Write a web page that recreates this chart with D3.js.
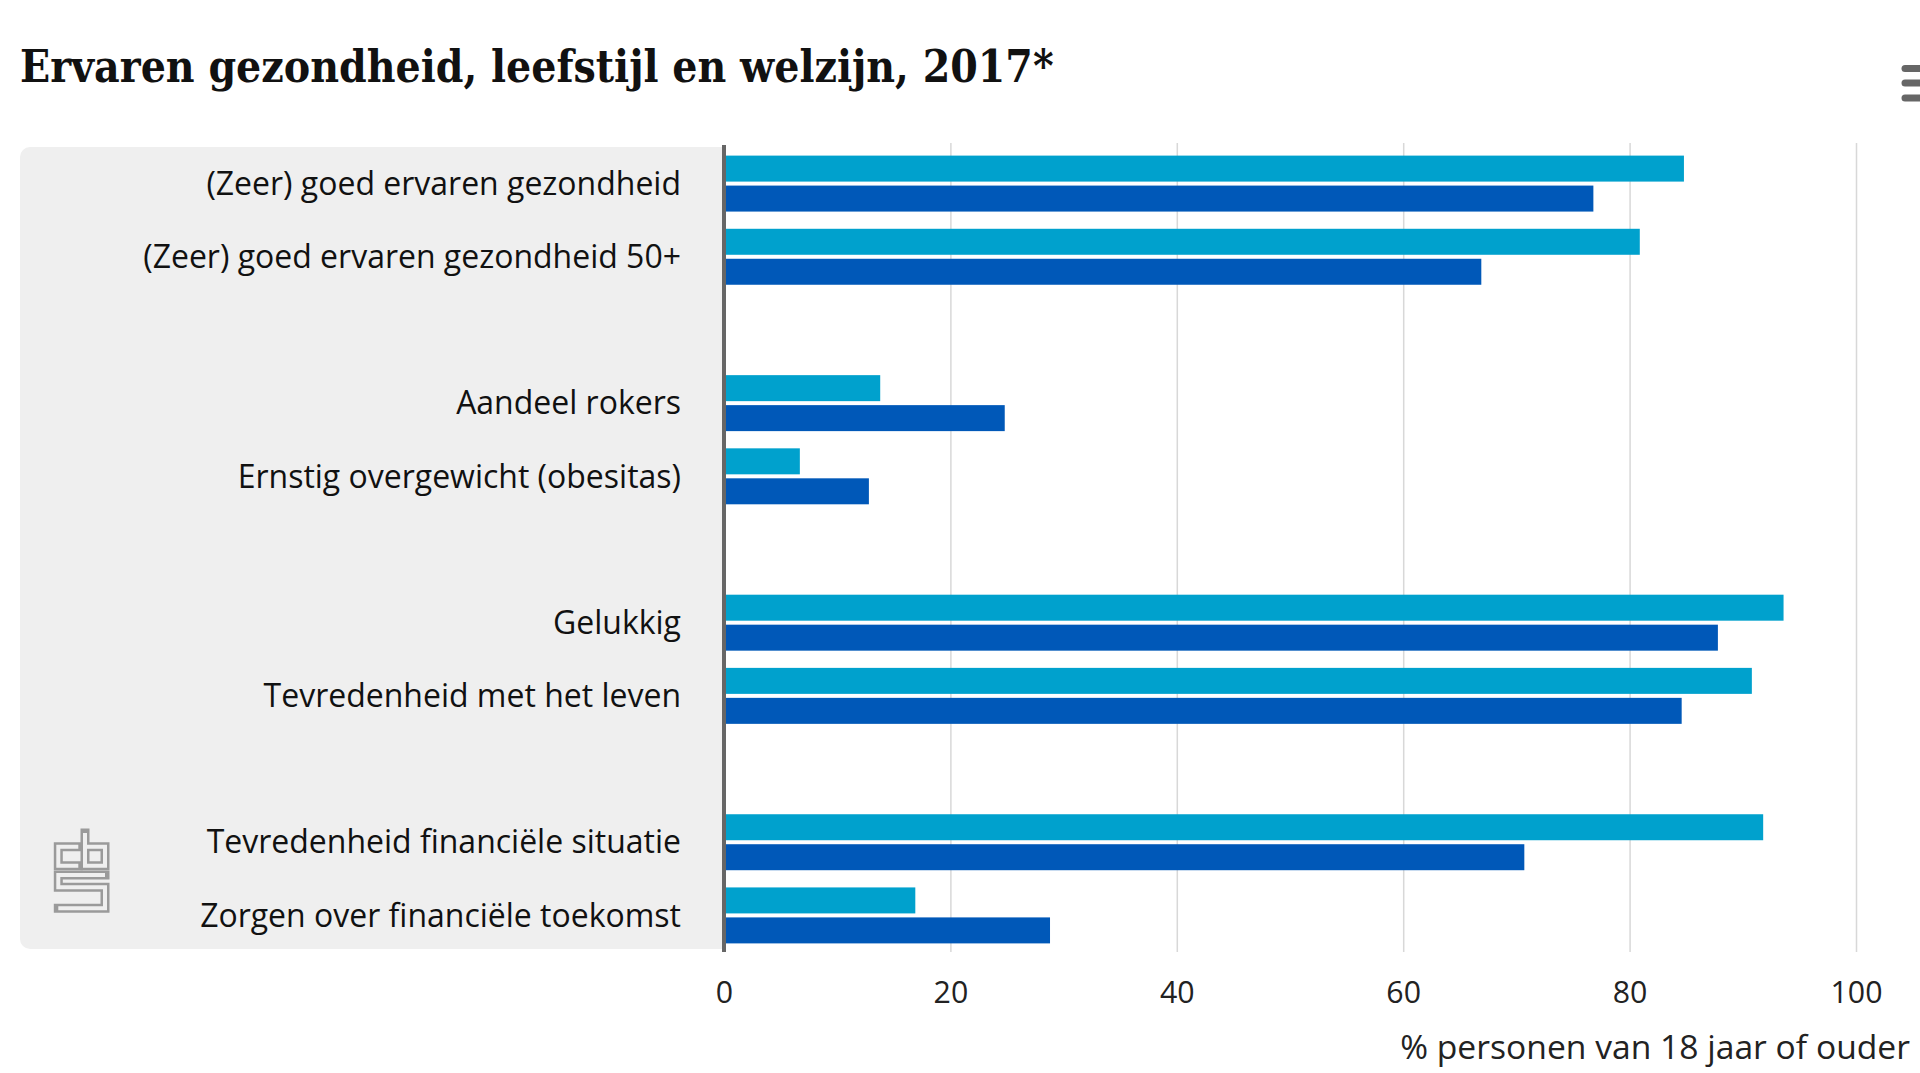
<!DOCTYPE html>
<html><head><meta charset="utf-8">
<script src="https://cdn.jsdelivr.net/npm/d3@7"></script>
<style>html,body{margin:0;padding:0;background:#fff;overflow:hidden}</style>
</head><body><svg id="c" width="1920" height="1073"></svg>
<script>
// ---- data ----
const title = "Ervaren gezondheid, leefstijl en welzijn, 2017*";
const categories = ["(Zeer) goed ervaren gezondheid", "(Zeer) goed ervaren gezondheid 50+", "",
  "Aandeel rokers", "Ernstig overgewicht (obesitas)", "",
  "Gelukkig", "Tevredenheid met het leven", "",
  "Tevredenheid financiële situatie", "Zorgen over financiële toekomst"];
const seriesLight = [84.8, 80.9, null, 13.8, 6.7, null, 93.6, 90.8, null, 91.8, 16.9];
const seriesDark  = [76.8, 66.9, null, 24.8, 12.8, null, 87.8, 84.6, null, 70.7, 28.8];
const xTicks = [0, 20, 40, 60, 80, 100];
const axisTitle = "% personen van 18 jaar of ouder";

// ---- layout ----
const svg = d3.select("#c");
const x = d3.scaleLinear([0, 100], [724, 1856]);
const y = d3.scaleBand(d3.range(categories.length), [147, 952]).padding(0);
const inner = d3.scaleBand(["light", "dark"], [0, y.bandwidth()]).paddingInner(0.133).paddingOuter(0.287);
const colors = {light: "#00a1cd", dark: "#0058b8"};

function fitWidth(sel, target) {
  const w = sel.node().getComputedTextLength();
  const fs = parseFloat(sel.attr("font-size"));
  const nfs = fs * target / w;
  sel.attr("font-size", nfs);
  return nfs;
}

// panel
svg.append("rect").attr("x", 20).attr("y", 147).attr("width", 724 - 20 + 8).attr("height", 952 - 147 - 3)
  .attr("rx", 10).attr("fill", "#efefef");
svg.append("rect").attr("x", 724).attr("y", 140).attr("width", 20).attr("height", 820).attr("fill", "#fff");

// gridlines
svg.append("g").attr("transform", `translate(0,952)`)
  .call(d3.axisBottom(x).tickValues(xTicks.slice(1)).tickSize(-(952 - 143)).tickFormat(""))
  .call(g => g.select(".domain").remove())
  .call(g => g.selectAll("line").attr("stroke", "#d8d8d8").attr("stroke-width", 1.5));

// tick labels
const axG = svg.append("g").attr("transform", `translate(0,992)`)
  .call(d3.axisBottom(x).tickValues(xTicks).tickSize(0).tickPadding(0))
  .call(g => g.select(".domain").remove());
axG.selectAll("text").attr("font-family", "'Open Sans', sans-serif").attr("font-size", 27)
  .attr("fill", "#222").attr("dy", "0.35em").attr("y", 0);
const t100 = axG.selectAll("text").filter(d => d === 100);
const tfs = fitWidth(t100, 52);
axG.selectAll("text").attr("font-size", tfs);

// bars
const data = categories.map((c, i) => ({i, light: seriesLight[i], dark: seriesDark[i]}));
["light", "dark"].forEach(key => {
  svg.append("g").selectAll("rect")
    .data(data.filter(d => d[key] != null))
    .join("rect")
    .attr("x", x(0))
    .attr("y", d => y(d.i) + inner(key))
    .attr("width", d => x(d[key]) - x(0))
    .attr("height", inner.bandwidth())
    .attr("fill", colors[key]);
});

// axis line
svg.append("line").attr("x1", x(0)).attr("x2", x(0)).attr("y1", 145).attr("y2", 952)
  .attr("stroke", "#666").attr("stroke-width", 4);

// category labels
const lab = svg.append("g").selectAll("text")
  .data(data.filter(d => categories[d.i] !== ""))
  .join("text")
  .attr("x", 681)
  .attr("y", d => y(d.i) + y.bandwidth() / 2)
  .attr("dy", "0.35em")
  .attr("text-anchor", "end")
  .attr("font-family", "'Open Sans', sans-serif")
  .attr("font-size", 26)
  .attr("fill", "#111")
  .text(d => categories[d.i]);
const longest = lab.filter(d => d.i === 1);
const lfs = fitWidth(longest, 538);
lab.attr("font-size", lfs);

// axis title
const at = svg.append("text").attr("x", 1910).attr("y", 1047).attr("dy", "0.35em")
  .attr("text-anchor", "end").attr("font-family", "'Open Sans', sans-serif")
  .attr("font-size", 27).attr("fill", "#222").text(axisTitle);
fitWidth(at, 510);

// title
const tt = svg.append("text").attr("x", 20).attr("y", 82)
  .attr("font-family", "'DejaVu Serif', serif").attr("font-weight", "bold")
  .attr("font-stretch", "condensed")
  .attr("font-size", 40).attr("fill", "#111").text(title);
fitWidth(tt, 1034);

// menu icon
[68.5, 83, 98].forEach(cy => {
  svg.append("line").attr("x1", 1905).attr("x2", 1930).attr("y1", cy).attr("y2", cy)
    .attr("stroke", "#666").attr("stroke-width", 7).attr("stroke-linecap", "round");
});

// cbs logo (outline style)
const logoPaths = [
  "M78.3,846.7 H58.3 V865.7 H78.3",
  "M85,833 V865.7 H105 V846.7 H85",
  "M105,875 H58.3 V887.3 H105 V908.3 H58.3"
];
const logo = svg.append("g");
logoPaths.forEach(p => logo.append("path").attr("d", p).attr("fill", "none")
  .attr("stroke", "#9a9a9a").attr("stroke-width", 9).attr("stroke-linecap", "square").attr("stroke-linejoin", "miter"));
logoPaths.forEach(p => logo.append("path").attr("d", p).attr("fill", "none")
  .attr("stroke", "#efefef").attr("stroke-width", 4).attr("stroke-linecap", "butt").attr("stroke-linejoin", "miter"));
</script>
</body></html>
